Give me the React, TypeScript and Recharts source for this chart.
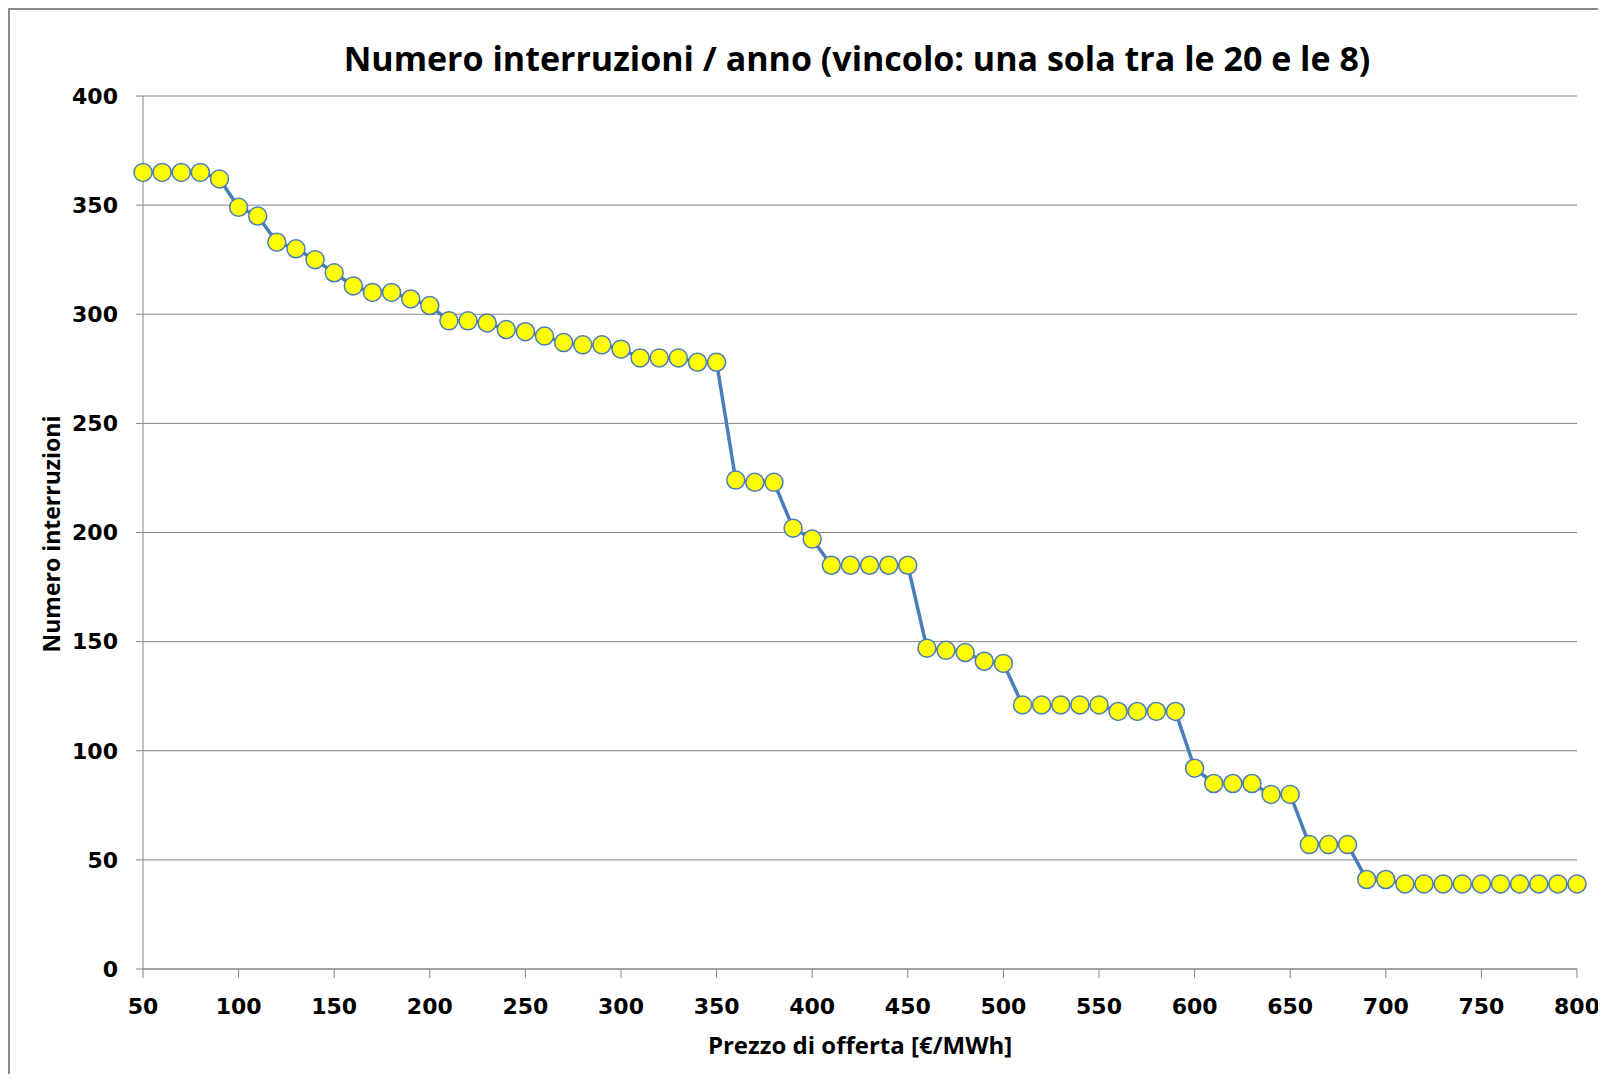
import { LineChart, Line, XAxis, YAxis, CartesianGrid } from 'recharts';

// #region Data
const prices = [
  50, 60, 70, 80, 90, 100, 110, 120, 130, 140, 150, 160, 170, 180, 190, 200, 210, 220, 230, 240,
  250, 260, 270, 280, 290, 300, 310, 320, 330, 340, 350, 360, 370, 380, 390, 400, 410, 420, 430, 440,
  450, 460, 470, 480, 490, 500, 510, 520, 530, 540, 550, 560, 570, 580, 590, 600, 610, 620, 630, 640,
  650, 660, 670, 680, 690, 700, 710, 720, 730, 740, 750, 760, 770, 780, 790, 800,
];
const interruptions = [
  365, 365, 365, 365, 362, 349, 345, 333, 330, 325, 319, 313, 310, 310, 307, 304, 297, 297, 296, 293,
  292, 290, 287, 286, 286, 284, 280, 280, 280, 278, 278, 224, 223, 223, 202, 197, 185, 185, 185, 185,
  185, 147, 146, 145, 141, 140, 121, 121, 121, 121, 121, 118, 118, 118, 118, 92, 85, 85, 85, 80,
  80, 57, 57, 57, 41, 41, 39, 39, 39, 39, 39, 39, 39, 39, 39, 39,
];
const xTicks = [50, 100, 150, 200, 250, 300, 350, 400, 450, 500, 550, 600, 650, 700, 750, 800];
const yTicks = [0, 50, 100, 150, 200, 250, 300, 350, 400];
const title = 'Numero interruzioni / anno (vincolo: una sola tra le 20 e le 8)';
const xTitle = 'Prezzo di offerta [€/MWh]';
const yTitle = 'Numero interruzioni';
// #endregion

const data = prices.map((p, i) => ({ price: p, value: interruptions[i] }));

const font = "'Open Sans', sans-serif";
const tickFont = "'DejaVu Sans', sans-serif";
const axisGray = '#868686';
const lineBlue = '#4a7ebb';

export default function App() {
  return (
    <div
      style={{
        position: 'relative',
        width: 1590,
        height: 1066,
        borderTop: '2px solid #8c8c8c',
        borderLeft: '2px solid #8c8c8c',
        boxSizing: 'border-box',
        fontFamily: font,
        background: '#fff',
      }}
    >
      <div
        style={{
          position: 'absolute',
          left: 847,
          top: 28,
          transform: 'translateX(-50%)',
          whiteSpace: 'nowrap',
          fontSize: 34,
          fontWeight: 700,
          lineHeight: 1.2,
          color: '#000',
        }}
      >
        {title}
      </div>
      <div
        style={{
          position: 'absolute',
          left: 850,
          top: 1021,
          transform: 'translateX(-50%)',
          whiteSpace: 'nowrap',
          fontSize: 24,
          fontWeight: 700,
          lineHeight: 1.2,
        }}
      >
        {xTitle}
      </div>
      <div
        style={{
          position: 'absolute',
          left: 42,
          top: 524,
          transform: 'translate(-50%, -50%) rotate(-90deg)',
          whiteSpace: 'nowrap',
          fontSize: 23,
          fontWeight: 700,
          lineHeight: 1.2,
        }}
      >
        {yTitle}
      </div>
      <LineChart width={1596} height={1064} data={data} margin={{ top: 86, right: 29, bottom: 35, left: 48 }}>
        <CartesianGrid vertical={false} stroke={axisGray} strokeWidth={1} />
        <XAxis
          dataKey="price"
          type="number"
          domain={[50, 800]}
          ticks={xTicks}
          interval={0}
          height={70}
          stroke={axisGray}
          tickSize={9}
          tickMargin={20}
          tick={{ fill: '#000', fontSize: 22, fontWeight: 700, fontFamily: tickFont }}
        />
        <YAxis
          type="number"
          domain={[0, 400]}
          ticks={yTicks}
          interval={0}
          width={85}
          stroke={axisGray}
          tickSize={7}
          tickMargin={18}
          tick={{ fill: '#000', fontSize: 22, fontWeight: 700, fontFamily: tickFont }}
        />
        <Line
          type="linear"
          dataKey="value"
          stroke={lineBlue}
          strokeWidth={3.5}
          dot={{ r: 9, fill: '#ffff00', stroke: lineBlue, strokeWidth: 1.5 }}
          activeDot={false}
          isAnimationActive={false}
        />
      </LineChart>
    </div>
  );
}
